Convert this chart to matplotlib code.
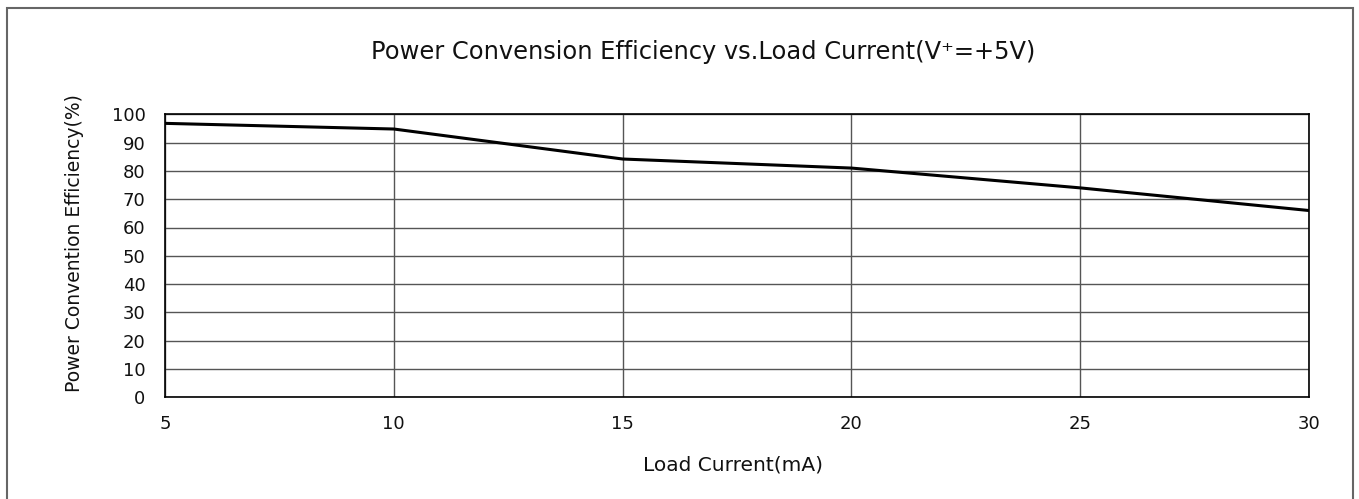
import matplotlib
matplotlib.use("Agg")
import matplotlib.pyplot as plt
from matplotlib.patches import Rectangle

load_current = [5, 10, 15, 20, 25, 30]
efficiency = [96.8, 94.8, 84.2, 81.0, 74.0, 66.0]
x_ticks = [5, 10, 15, 20, 25, 30]
y_ticks = [0, 10, 20, 30, 40, 50, 60, 70, 80, 90, 100]

plt.rcParams['font.family'] = ['DejaVu Sans']

W, H = 1359, 499
fig = plt.figure(figsize=(W/100, H/100), dpi=100)
ax = fig.add_axes([165/W, 1-397.3/H, (1309-165)/W, (397.3-114.3)/H])

ax.plot(load_current, efficiency, color='black', lw=2.2, solid_joinstyle='round')
ax.set_xlim(5, 30)
ax.set_ylim(0, 100)
ax.set_xticks(x_ticks)
ax.set_yticks(y_ticks)
ax.grid(True, color='#555555', lw=1.0)
ax.set_axisbelow(True)
for s in ax.spines.values():
    s.set_color('black')
    s.set_linewidth(1.2)
ax.tick_params(length=0, labelsize=13, colors='#111111')
ax.tick_params(axis='y', pad=14)
ax.tick_params(axis='x', pad=13)

fig.text(703/W, 1-52/H, "Power Convension Efficiency vs.Load Current(V\u207a=+5V)",
         fontsize=17.4, ha='center', va='center', color='#111111')
fig.text(733/W, 1-465/H, "Load Current(mA)", fontsize=14.5, ha='center', va='center', color='#111111')
fig.text(75/W, 1-243/H, "Power Convention Efficiency(%)", fontsize=13.5, ha='center', va='center',
         rotation=90, color='#111111')

fig.patches.append(Rectangle((7/W, -0.05), (1353-7)/W, 1.05-8/H,
                             transform=fig.transFigure, fill=False,
                             edgecolor='#666666', lw=1.5, clip_on=False))

fig.savefig("out.png", dpi=100)
